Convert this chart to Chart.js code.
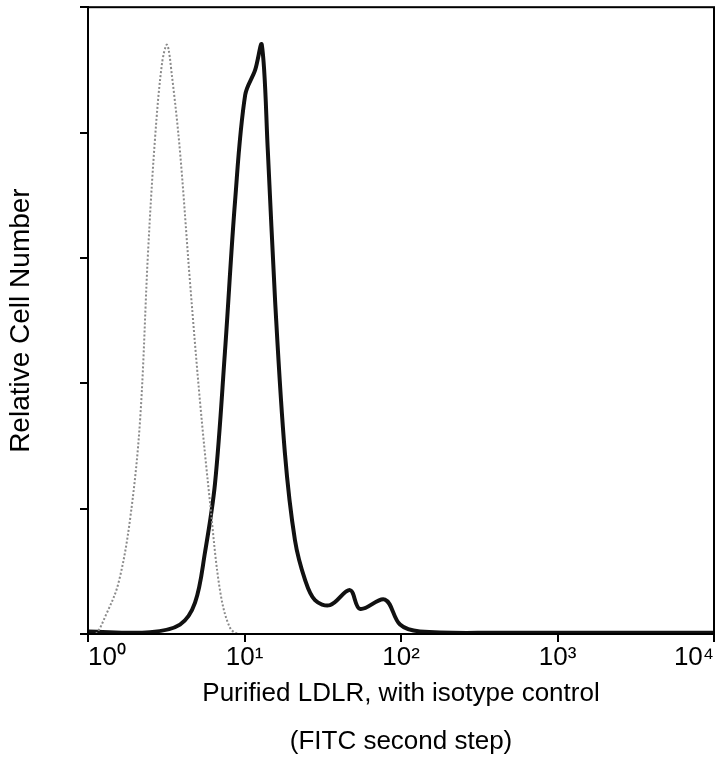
<!DOCTYPE html>
<html>
<head>
<meta charset="utf-8">
<script src="https://cdn.jsdelivr.net/npm/chart.js@4"></script>
<style>
  html, body { margin: 0; padding: 0; background: #fff; }
  #wrap { width: 723px; height: 774px; }
</style>
</head>
<body>
<div id="wrap"><canvas id="c"></canvas></div>
<script>
// Isotype control (gray, dotted)
const isotypeX = [1.0, 1.12, 1.3, 1.56, 1.85, 2.15, 2.42, 2.68, 2.97, 3.2, 3.44, 3.87, 4.49, 5.2, 6.02, 6.97, 8.08, 9.36, 10000];
const isotypeY = [0, 0, 3, 8, 18, 34, 61, 79, 91, 94, 89, 77, 56, 37, 21, 7, 1, 0, 0];

// Purified LDLR (black)
const ldlrX = [1.0, 2.49, 3.87, 4.83, 5.59, 6.48, 7.5, 8.7, 10.1, 11.7, 12.9, 14.1, 15.7, 18.1, 21.0, 24.4, 28.2, 35.2, 47.2, 54.7, 79.0, 98.6, 132, 429, 10000];
const ldlrY = [0.4, 0.3, 1.5, 5, 13, 24, 45, 69, 86, 90, 94, 77, 53, 29, 15, 8.6, 5.4, 4.6, 7, 4, 5.5, 1.5, 0.4, 0.2, 0.2];

const xTicks = [1, 10, 100, 1000, 10000];
const yTicks = [0, 20, 40, 60, 80, 100];
const sup = { 0: '\u2070', 1: '\u00b9', 2: '\u00b2', 3: '\u00b3', 4: '\u2074' };

const toPoints = (xs, ys) => xs.map((x, i) => ({ x: x, y: ys[i] }));

// Draw the full box around the plot area
const frame = {
    id: 'frame',
    afterDraw(chart) {
        const a = chart.chartArea;
        const ctx = chart.ctx;
        ctx.save();
        ctx.strokeStyle = '#000';
        ctx.lineWidth = 2;
        ctx.strokeRect(a.left, a.top, a.right - a.left, a.bottom - a.top);
        ctx.restore();
    }
};

new Chart(document.getElementById('c'), {
    type: 'line',
    data: {
        datasets: [
            {
                label: 'Isotype control',
                data: toPoints(isotypeX, isotypeY),
                borderColor: '#8a8a8a',
                borderWidth: 2,
                borderDash: [2, 2],
                pointRadius: 0,
                tension: 0.35
            },
            {
                label: 'Purified LDLR',
                data: toPoints(ldlrX, ldlrY),
                borderColor: '#111',
                borderWidth: 4,
                pointRadius: 0,
                tension: 0.35
            }
        ]
    },
    options: {
        responsive: true,
        maintainAspectRatio: false,
        animation: false,
        layout: { autoPadding: false, padding: { top: 5, right: 9, left: 0, bottom: 8 } },
        plugins: { legend: { display: false }, tooltip: { enabled: false } },
        scales: {
            x: {
                type: 'logarithmic',
                min: 1,
                max: 10000,
                afterBuildTicks: (s) => { s.ticks = xTicks.map(v => ({ value: v })); },
                afterFit: (s) => { s.height = 132; s.paddingLeft = 0; s.paddingRight = 0; },
                grid: { drawOnChartArea: false, tickLength: 8, color: '#000', lineWidth: 2 },
                border: { color: '#000', width: 2 },
                ticks: {
                    color: '#000',
                    font: { family: 'Liberation Sans', size: 26 },
                    maxRotation: 0,
                    autoSkip: false,
                    align: 'inner',
                    padding: 0,
                    callback: (v) => '10' + sup[Math.round(Math.log10(v))]
                },
                title: {
                    display: true,
                    text: ['Purified LDLR, with isotype control', '(FITC second step)'],
                    color: '#000',
                    font: { family: 'Liberation Sans', size: 26, lineHeight: 1.85 },
                    padding: 0
                }
            },
            y: {
                min: 0,
                max: 100,
                afterBuildTicks: (s) => { s.ticks = yTicks.map(v => ({ value: v })); },
                afterFit: (s) => { s.width = 88; },
                grid: { drawOnChartArea: false, tickLength: 8, color: '#000', lineWidth: 2 },
                border: { color: '#000', width: 2 },
                ticks: { callback: () => '', padding: 0 },
                title: {
                    display: true,
                    text: 'Relative Cell Number',
                    color: '#000',
                    font: { family: 'Liberation Sans', size: 28 },
                    padding: { bottom: 20 }
                }
            }
        }
    },
    plugins: [frame]
});
</script>
</body>
</html>
